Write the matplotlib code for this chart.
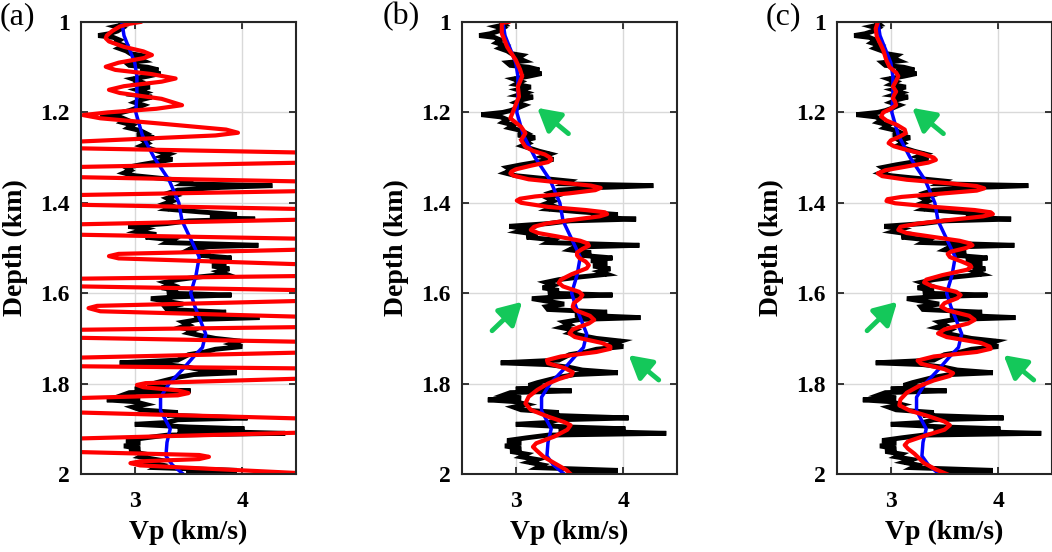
import matplotlib.pyplot as plt
from matplotlib.ticker import FormatStrFormatter

plt.rcParams['font.family'] = ['Liberation Serif', 'DejaVu Serif']

# true well log (black), same in all panels
true_depth = [1.000, 1.006, 1.010, 1.014, 1.020, 1.026, 1.030, 1.034, 1.040, 1.046,
              1.052, 1.058, 1.064, 1.070, 1.074, 1.080, 1.086, 1.090, 1.096, 1.100,
              1.106, 1.110, 1.114, 1.120, 1.126, 1.132, 1.138, 1.144, 1.150, 1.156,
              1.162, 1.166, 1.172, 1.178, 1.184, 1.190, 1.196, 1.200, 1.205, 1.210,
              1.216, 1.222, 1.228, 1.234, 1.240, 1.246, 1.250, 1.256, 1.262, 1.268,
              1.274, 1.280, 1.286, 1.292, 1.298, 1.304, 1.310, 1.316, 1.322, 1.328,
              1.334, 1.340, 1.346, 1.352, 1.358, 1.362, 1.366, 1.372, 1.378, 1.384,
              1.390, 1.396, 1.402, 1.408, 1.414, 1.420, 1.426, 1.432, 1.436, 1.440,
              1.446, 1.452, 1.458, 1.464, 1.470, 1.476, 1.482, 1.488, 1.494, 1.498,
              1.504, 1.510, 1.516, 1.522, 1.528, 1.534, 1.540, 1.546, 1.552, 1.558,
              1.564, 1.570, 1.576, 1.582, 1.588, 1.594, 1.600, 1.604, 1.608, 1.612,
              1.618, 1.624, 1.630, 1.636, 1.642, 1.648, 1.654, 1.658, 1.664, 1.670,
              1.676, 1.682, 1.688, 1.694, 1.700, 1.706, 1.712, 1.718, 1.724, 1.730,
              1.736, 1.742, 1.748, 1.754, 1.758, 1.764, 1.770, 1.776, 1.780, 1.786,
              1.792, 1.798, 1.804, 1.808, 1.812, 1.816, 1.820, 1.826, 1.832, 1.836,
              1.840, 1.846, 1.852, 1.858, 1.864, 1.870, 1.876, 1.880, 1.886, 1.890,
              1.896, 1.900, 1.904, 1.910, 1.914, 1.920, 1.926, 1.932, 1.938, 1.944,
              1.950, 1.956, 1.962, 1.968, 1.974, 1.980, 1.986, 1.992, 1.996, 2.000]
true_vp = [2.87, 2.90, 2.82, 2.88, 2.84, 2.76, 2.66, 2.80, 2.86, 2.82,
           2.90, 2.85, 2.92, 2.96, 3.06, 3.02, 3.08, 2.92, 2.95, 3.12,
           3.22, 3.05, 3.24, 3.12, 2.98, 3.05, 3.00, 3.14, 3.02, 3.10,
           3.02, 3.16, 3.06, 3.00, 3.08, 3.02, 2.95, 2.88, 2.68, 2.86,
           2.92, 2.88, 2.98, 2.94, 3.05, 3.10, 3.02, 3.18, 3.08, 3.12,
           3.06, 3.14, 3.22, 3.32, 3.25, 3.35, 3.20, 3.05, 2.92, 2.96,
           2.90, 3.00, 3.25, 3.50, 3.45, 4.28, 3.80, 3.40, 3.32, 3.38,
           3.30, 3.35, 3.28, 3.36, 3.30, 3.60, 3.95, 3.70, 4.12, 3.50,
           3.30, 2.94, 3.10, 3.02, 3.20, 3.10, 3.35, 3.30, 4.15, 3.55,
           3.50, 3.70, 3.60, 3.90, 3.70, 3.85, 3.72, 3.88, 3.78, 3.85,
           3.60, 3.40, 3.28, 3.35, 3.25, 3.40, 3.30, 3.90, 3.40, 3.15,
           3.30, 3.45, 3.28, 3.30, 3.85, 3.55, 4.16, 3.60, 3.45, 3.50,
           3.42, 3.55, 3.50, 3.62, 3.75, 3.98, 3.90, 4.00, 3.75, 3.65,
           3.50, 3.45, 3.40, 2.86, 3.30, 3.50, 3.62, 3.95, 3.55, 3.40,
           3.30, 3.20, 3.12, 3.30, 3.00, 3.52, 2.95, 2.88, 3.05, 2.74,
           3.00, 3.10, 2.98, 3.05, 3.40, 3.30, 4.05, 3.40, 3.30, 3.00,
           3.50, 4.02, 3.40, 4.40, 3.30, 3.10, 2.92, 3.05, 2.90, 3.05,
           2.95, 3.10, 3.05, 3.20, 3.12, 3.25, 3.20, 3.95, 3.50, 3.50]

# smooth initial model (blue)
init_depth = [1.00, 1.03, 1.06, 1.09, 1.12, 1.16, 1.20, 1.25, 1.30, 1.35,
              1.40, 1.44, 1.48, 1.52, 1.56, 1.60, 1.63, 1.66, 1.69, 1.72,
              1.74, 1.77, 1.80, 1.83, 1.86, 1.90, 1.93, 1.96, 1.98, 2.00]
init_vp = [2.88, 2.90, 2.95, 3.00, 3.02, 3.02, 3.01, 3.07, 3.18, 3.32,
           3.41, 3.44, 3.52, 3.60, 3.57, 3.52, 3.56, 3.61, 3.66, 3.63,
           3.55, 3.44, 3.32, 3.24, 3.24, 3.33, 3.30, 3.29, 3.35, 3.45]

# inverted results (red)
inv_a_depth = [1.000, 1.004, 1.010, 1.020, 1.030, 1.036, 1.043, 1.055, 1.065, 1.073,
               1.080, 1.090, 1.099, 1.106, 1.115, 1.125, 1.132, 1.142, 1.150, 1.157,
               1.170, 1.184, 1.192, 1.200, 1.206, 1.213, 1.225, 1.238, 1.245, 1.251,
               1.275, 1.300, 1.332, 1.364, 1.393, 1.425, 1.460, 1.490, 1.513, 1.518,
               1.523, 1.555, 1.575, 1.603, 1.628, 1.633, 1.640, 1.668, 1.688, 1.718,
               1.756, 1.772, 1.799, 1.803, 1.808, 1.815, 1.821, 1.826, 1.848, 1.893,
               1.937, 1.958, 1.962, 1.967, 1.972, 1.976, 1.981, 2.000]
inv_a_vp = [3.05, 2.95, 2.86, 2.79, 2.74, 2.73, 2.76, 2.90, 3.08, 3.16,
            3.08, 2.85, 2.73, 2.82, 3.15, 3.38, 3.25, 2.90, 2.76, 2.86,
            3.25, 3.44, 3.20, 2.75, 2.52, 2.68, 3.25, 3.85, 3.96, 3.75,
            1.50, 7.00, 0.00, 7.00, 0.00, 7.00, 0.00, 7.00, 2.85, 2.76,
            2.85, 7.00, 0.00, 7.00, 2.65, 2.57, 2.68, 7.00, 0.00, 7.00,
            0.00, 7.00, 3.10, 3.02, 3.08, 3.40, 3.50, 3.40, 0.00, 7.00,
            0.00, 3.60, 3.69, 3.60, 3.05, 2.96, 3.05, 4.70]

inv_b_depth = [1.000, 1.002, 1.025, 1.055, 1.084, 1.105, 1.120, 1.143, 1.165, 1.195,
               1.213, 1.232, 1.246, 1.261, 1.276, 1.285, 1.293, 1.300, 1.305, 1.310,
               1.318, 1.326, 1.331, 1.335, 1.340, 1.348, 1.356, 1.362, 1.367, 1.372,
               1.379, 1.386, 1.391, 1.395, 1.400, 1.409, 1.416, 1.421, 1.425, 1.430,
               1.438, 1.446, 1.453, 1.460, 1.467, 1.475, 1.484, 1.490, 1.495, 1.502,
               1.510, 1.516, 1.522, 1.530, 1.538, 1.545, 1.558, 1.570, 1.577, 1.585,
               1.597, 1.604, 1.611, 1.622, 1.630, 1.638, 1.650, 1.659, 1.667, 1.680,
               1.689, 1.697, 1.710, 1.718, 1.723, 1.730, 1.740, 1.748, 1.755, 1.766,
               1.775, 1.781, 1.790, 1.800, 1.814, 1.829, 1.844, 1.858, 1.873, 1.885,
               1.892, 1.902, 1.917, 1.932, 1.940, 1.947, 1.962, 1.976, 1.991, 2.000]
inv_b_vp = [2.93, 2.87, 2.87, 2.92, 3.00, 3.04, 3.06, 3.02, 3.03, 2.98,
            2.95, 3.05, 3.09, 3.05, 3.09, 3.16, 3.27, 3.32, 3.33, 3.30,
            3.14, 3.00, 2.96, 2.95, 2.98, 3.12, 3.45, 3.70, 3.79, 3.74,
            3.50, 3.18, 3.04, 3.01, 3.05, 3.30, 3.65, 3.83, 3.85, 3.78,
            3.52, 3.28, 3.17, 3.14, 3.21, 3.40, 3.60, 3.67, 3.68, 3.62,
            3.57, 3.57, 3.59, 3.65, 3.68, 3.66, 3.52, 3.42, 3.40, 3.44,
            3.59, 3.62, 3.60, 3.54, 3.53, 3.56, 3.69, 3.73, 3.68, 3.53,
            3.50, 3.55, 3.80, 3.88, 3.88, 3.75, 3.42, 3.29, 3.30, 3.46,
            3.53, 3.52, 3.40, 3.30, 3.20, 3.12, 3.09, 3.14, 3.30, 3.45,
            3.51, 3.48, 3.36, 3.19, 3.16, 3.19, 3.26, 3.36, 3.47, 3.51]

inv_c_depth = [1.000, 1.015, 1.032, 1.062, 1.085, 1.100, 1.112, 1.120, 1.130, 1.143,
               1.154, 1.162, 1.169, 1.176, 1.184, 1.192, 1.200, 1.209, 1.218, 1.228,
               1.238, 1.246, 1.254, 1.262, 1.268, 1.275, 1.283, 1.292, 1.300, 1.305,
               1.311, 1.320, 1.328, 1.335, 1.341, 1.349, 1.357, 1.363, 1.368, 1.373,
               1.380, 1.387, 1.392, 1.396, 1.401, 1.409, 1.416, 1.421, 1.425, 1.430,
               1.438, 1.446, 1.453, 1.460, 1.467, 1.475, 1.484, 1.490, 1.494, 1.500,
               1.508, 1.513, 1.520, 1.530, 1.538, 1.542, 1.548, 1.560, 1.570, 1.576,
               1.584, 1.597, 1.604, 1.611, 1.622, 1.630, 1.638, 1.650, 1.659, 1.667,
               1.680, 1.689, 1.697, 1.710, 1.718, 1.723, 1.730, 1.740, 1.749, 1.756,
               1.768, 1.777, 1.783, 1.793, 1.807, 1.820, 1.835, 1.848, 1.860, 1.872,
               1.884, 1.892, 1.902, 1.915, 1.928, 1.936, 1.944, 1.955, 1.962, 1.976,
               1.990, 2.000]
inv_c_vp = [2.88, 2.86, 2.87, 2.93, 2.96, 2.99, 3.05, 3.07, 3.05, 3.02,
            3.05, 3.03, 3.02, 3.04, 3.05, 3.00, 2.93, 2.91, 2.96, 3.06,
            3.13, 3.14, 3.08, 3.00, 2.98, 3.03, 3.15, 3.30, 3.40, 3.42,
            3.35, 3.14, 2.95, 2.88, 2.92, 3.15, 3.55, 3.80, 3.87, 3.80,
            3.45, 3.10, 2.97, 2.96, 3.04, 3.40, 3.78, 3.93, 3.95, 3.86,
            3.55, 3.25, 3.09, 3.07, 3.15, 3.38, 3.64, 3.74, 3.76, 3.70,
            3.56, 3.53, 3.55, 3.66, 3.74, 3.75, 3.71, 3.48, 3.33, 3.31,
            3.38, 3.61, 3.65, 3.62, 3.50, 3.47, 3.53, 3.73, 3.78, 3.72,
            3.50, 3.44, 3.52, 3.84, 3.92, 3.93, 3.80, 3.40, 3.25, 3.28,
            3.50, 3.58, 3.55, 3.40, 3.25, 3.15, 3.09, 3.08, 3.18, 3.35,
            3.50, 3.55, 3.50, 3.32, 3.16, 3.13, 3.16, 3.22, 3.25, 3.31,
            3.42, 3.52]

panel_labels = ['(a)', '(b)', '(c)']
inv_depths = [inv_a_depth, inv_b_depth, inv_c_depth]
inv_vps = [inv_a_vp, inv_b_vp, inv_c_vp]

# green arrows (tail -> head) in data units, drawn on panels b and c
arrow_tails = [(3.49, 1.247), (2.78, 1.683), (4.33, 1.792)]
arrow_heads = [(3.20, 1.190), (3.06, 1.619), (4.05, 1.737)]

depth_ticks = [1, 1.2, 1.4, 1.6, 1.8, 2]
vp_ticks = [3, 4]

fig = plt.figure(figsize=(10.52, 5.52), dpi=100)
lefts = [81, 462, 837]
label_x = [0, 383, 766]

for i in range(3):
    ax = fig.add_axes([lefts[i] / 1052, 78 / 552, 215 / 1052, 452 / 552])
    ax.plot(true_vp, true_depth, color='k', lw=3.5, solid_joinstyle='miter')
    ax.plot(init_vp, init_depth, color='#0000ff', lw=2.5)
    ax.plot(inv_vps[i], inv_depths[i], color='#ff0000', lw=3.0)

    ax.set_xlim(2.5, 4.5)
    ax.set_ylim(2, 1)
    ax.set_xticks(vp_ticks)
    ax.set_yticks(depth_ticks)
    ax.yaxis.set_major_formatter(FormatStrFormatter('%g'))
    ax.grid(True, color='#d9d9d9', lw=1.0)
    ax.set_axisbelow(True)
    for s in ax.spines.values():
        s.set_linewidth(1.5)
        s.set_color('#262626')
    ax.tick_params(direction='in', length=5, width=1.3, top=True, right=True,
                   labelsize=17, color='#262626')
    ax.tick_params(axis='y', pad=8)
    ax.tick_params(axis='x', pad=12)
    for lab in ax.get_xticklabels() + ax.get_yticklabels():
        lab.set_fontweight('bold')

    ax.set_xlabel('Vp (km/s)', fontsize=20, fontweight='bold', va='center')
    ax.xaxis.set_label_coords(0.5, -0.13)
    ax.set_ylabel('Depth (km)', fontsize=20, fontweight='bold', va='center')
    ax.yaxis.set_label_coords(-0.307, 0.5)

    fig.text(label_x[i] / 1052, 1 - 17 / 552, panel_labels[i], fontsize=23,
             ha='left', va='center')

    if i > 0:
        for tail, head in zip(arrow_tails, arrow_heads):
            ax.annotate('', xy=head, xytext=tail,
                        arrowprops=dict(arrowstyle='-|>,head_length=0.8,head_width=0.45',
                                        lw=3.5, color='#14c85a', shrinkA=0, shrinkB=0,
                                        mutation_scale=17))

fig.savefig('out.png', dpi=100)
